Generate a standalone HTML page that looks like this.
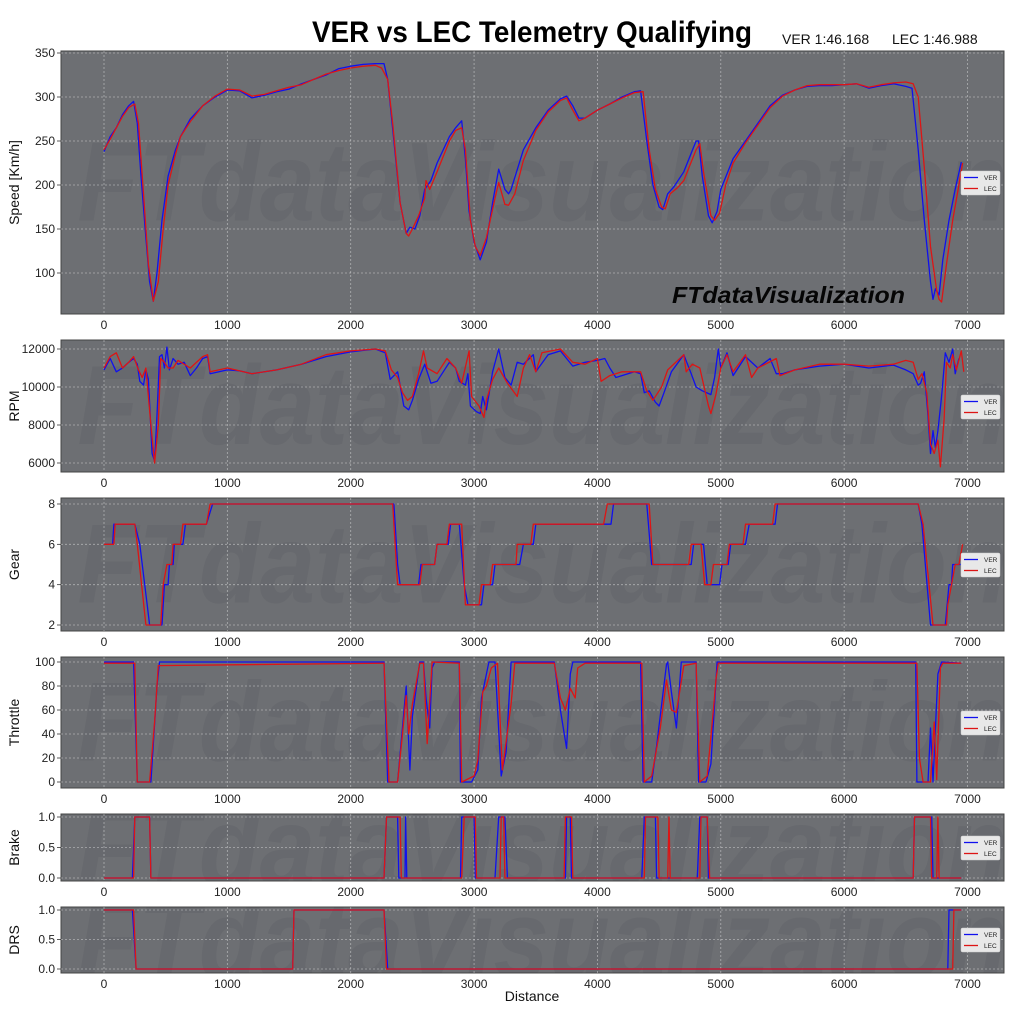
<!DOCTYPE html>
<html><head><meta charset="utf-8"><style>
html,body{margin:0;padding:0;background:#fff;}
svg{display:block;font-family:"Liberation Sans",sans-serif;}
</style></head><body>
<svg id="chart" width="1024" height="1024" viewBox="0 0 1024 1024" xmlns="http://www.w3.org/2000/svg">
<rect width="1024" height="1024" fill="#fff"/>
<text x="532" y="42" text-anchor="middle" font-size="30" font-weight="bold" textLength="440" lengthAdjust="spacingAndGlyphs" fill="#000">VER vs LEC Telemetry Qualifying</text>
<text x="782" y="44" font-size="14" fill="#111">VER 1:46.168</text>
<text x="892" y="44" font-size="14" fill="#111">LEC 1:46.988</text>
<text x="532" y="1001" text-anchor="middle" font-size="14" fill="#111">Distance</text>
</svg>
<script>
// ---- data arrays ----
const xTicks = [0,1000,2000,3000,4000,5000,6000,7000];
const speedDistVER = [0,50,100,150,200,240,270,300,340,370,400,430,470,520,580,620,700,800,900,1000,1100,1200,1300,1400,1500,1600,1800,1900,2000,2100,2200,2270,2300,2350,2400,2450,2480,2520,2560,2600,2650,2700,2800,2850,2900,2930,2960,3000,3050,3100,3150,3200,3250,3280,3300,3400,3500,3600,3700,3750,3800,3850,3900,4000,4100,4200,4300,4350,4400,4450,4500,4530,4570,4620,4700,4800,4820,4850,4900,4930,4970,5000,5100,5200,5300,5400,5500,5600,5700,5800,5900,6000,6100,6200,6300,6400,6500,6550,6600,6650,6700,6720,6740,6770,6800,6850,6900,6950];
const speedVER = [238,255,265,280,290,295,270,210,140,90,68,100,160,210,240,255,275,290,300,308,307,299,302,306,309,315,325,332,335,337,338,338,320,250,180,145,152,150,165,195,205,225,255,265,273,230,170,135,115,135,180,218,195,190,195,240,265,285,298,301,290,276,276,285,292,300,306,307,250,200,175,172,190,198,215,250,250,210,165,157,170,195,230,250,270,290,302,308,312,313,313,314,315,310,313,315,312,310,240,160,90,70,82,75,115,160,195,226];
const speedDistLEC = [0,50,100,150,200,250,280,320,360,400,440,480,520,580,620,700,800,900,1000,1100,1200,1300,1400,1500,1600,1800,1900,2000,2100,2200,2250,2300,2340,2400,2450,2470,2500,2550,2600,2610,2640,2700,2800,2850,2900,2930,2970,3010,3050,3100,3170,3200,3250,3280,3330,3400,3500,3600,3700,3750,3800,3850,3900,4000,4100,4200,4300,4370,4420,4470,4520,4550,4590,4650,4700,4800,4830,4860,4920,4950,4990,5040,5100,5200,5300,5400,5500,5600,5700,5800,5900,6000,6100,6200,6300,6400,6500,6560,6600,6650,6700,6750,6770,6790,6830,6880,6930,6960];
const speedLEC = [240,252,265,278,288,292,270,190,110,68,90,150,200,235,255,272,290,301,309,308,301,303,307,311,314,326,330,333,335,336,333,320,270,180,145,142,150,165,185,205,195,215,250,262,265,240,160,130,120,140,185,203,178,177,190,228,262,283,296,299,285,273,276,285,292,299,305,306,240,195,175,173,190,197,205,240,247,215,165,160,168,200,225,248,268,288,301,308,313,314,314,314,315,311,314,316,317,315,300,220,130,80,70,67,110,160,200,225];
const rpmDistVER = [0,50,100,150,200,240,270,290,320,340,360,390,410,430,450,470,490,510,530,560,600,650,700,750,800,840,860,1000,1100,1200,1400,1600,1800,2000,2200,2280,2320,2380,2400,2430,2470,2500,2550,2600,2650,2700,2800,2850,2880,2930,2950,2970,3020,3050,3070,3100,3150,3200,3250,3300,3350,3400,3480,3500,3600,3700,3800,3900,4000,4060,4100,4150,4300,4350,4380,4420,4470,4500,4540,4600,4700,4760,4800,4850,4920,4950,4980,5000,5050,5100,5200,5300,5400,5450,5500,5600,5800,6000,6200,6400,6500,6560,6600,6620,6650,6680,6700,6720,6740,6760,6790,6820,6850,6880,6900,6930];
const rpmVER = [10900,11500,10800,11000,11300,11500,11200,10300,10100,10900,10400,6500,6100,8500,11600,11700,11000,12100,10900,11500,11200,11300,10600,11000,11500,11600,10700,10900,10850,10700,10900,11200,11600,11850,12000,11800,10400,10800,10100,9000,8800,9300,10400,11200,10200,10300,11300,11000,10300,10100,10700,9000,8700,8600,9500,8800,10800,12000,10500,10100,11300,11200,11700,10800,11700,11900,11100,11300,11400,11500,11000,10500,10800,10700,9700,9800,9200,9000,9700,10800,11700,10700,10000,9800,9600,10500,12000,11000,11800,10600,11600,11000,11500,10700,10700,10900,11100,11200,11000,11150,10900,10700,10100,10200,10800,8500,6500,7700,6800,7700,9500,11800,11300,12000,10700,11500];
const rpmDistLEC = [0,50,100,150,200,240,280,310,340,380,410,440,460,490,520,560,600,700,800,840,860,1000,1200,1400,1600,1800,2000,2200,2280,2330,2380,2420,2460,2500,2550,2590,2620,2700,2780,2850,2900,2960,2980,3040,3080,3100,3150,3200,3270,3350,3400,3450,3500,3550,3700,3800,3900,4000,4030,4100,4200,4350,4400,4450,4520,4570,4700,4720,4770,4830,4900,4920,4960,5000,5050,5100,5200,5250,5300,5450,5480,5600,5800,6000,6200,6400,6500,6560,6600,6630,6670,6700,6730,6760,6780,6810,6830,6860,6880,6910,6950,6970];
const rpmLEC = [11000,11600,11800,11000,11300,11600,10900,10500,11000,8000,6000,8000,11500,11300,11000,11000,11400,11000,11600,11700,10800,11000,10700,10900,11200,11700,11900,12000,11900,10900,10500,9700,9300,9500,10700,11900,11000,10700,11500,11000,10200,11900,9500,9000,8400,9300,10400,11000,10200,9500,11000,11700,10800,11800,12000,11300,11200,11500,10300,10600,10800,10800,9800,9300,10000,10900,11700,10800,11200,11000,9000,8600,9600,11000,11700,10800,11700,10500,11000,11500,10600,10900,11200,11200,11100,11200,11400,11300,10400,10700,9700,7000,6500,7200,5800,8300,11300,11000,11700,10900,11900,10800];
const gearDistVER = [0,70,80,250,290,330,350,370,470,480,490,520,530,560,570,640,660,830,880,2350,2380,2400,2550,2570,2680,2700,2790,2810,2880,2920,2950,3060,3080,3150,3170,3370,3400,3480,3500,4110,4130,4400,4440,4760,4780,4860,4890,4990,5010,5060,5080,5200,5230,5440,5460,6600,6630,6700,6820,6850,6870,6880,6950];
const gearVER = [6,6,7,7,6,4,3,2,2,3,4,4,5,5,6,6,7,7,8,8,5,4,4,5,5,6,6,7,7,4,3,3,4,4,5,5,6,6,7,7,8,8,5,5,6,6,4,4,5,5,6,6,7,7,8,8,7,2,2,4,4,5,5];
const gearDistLEC = [0,80,90,250,270,340,460,480,510,550,560,620,640,830,860,2340,2380,2560,2580,2680,2700,2780,2800,2900,2930,3040,3060,3130,3150,3340,3350,3460,3480,4050,4080,4420,4450,4740,4760,4840,4870,4920,4940,5050,5070,5180,5200,5420,5440,6600,6640,6720,6830,6840,6870,6900,6930,6960];
const gearLEC = [6,6,7,7,6,2,2,4,5,5,6,6,7,7,8,8,4,4,5,5,6,6,7,7,3,3,4,4,5,5,6,6,7,7,8,8,5,5,6,6,4,4,5,5,6,6,7,7,8,8,7,2,2,3,4,5,5,6];
const thrDistVER = [0,240,270,380,430,450,2270,2300,2380,2450,2480,2500,2560,2590,2610,2640,2660,2680,2880,2890,2980,3030,3060,3120,3170,3220,3260,3300,3650,3700,3750,3780,3800,4350,4370,4440,4480,4560,4570,4600,4640,4680,4800,4820,4880,4920,4970,6580,6590,6680,6700,6720,6760,6790,6950];
const thrVER = [100,100,0,0,80,100,100,0,0,80,10,55,100,100,70,45,95,100,100,0,0,10,70,100,100,5,25,100,100,60,28,90,100,100,0,0,30,98,100,75,45,100,100,0,0,15,100,100,0,0,45,0,90,100,99];
const thrDistLEC = [0,250,270,370,410,440,2270,2310,2380,2420,2450,2470,2500,2560,2590,2620,2660,2880,2900,3000,3030,3070,3100,3140,3190,3230,3300,3330,3650,3700,3740,3780,3820,3840,3900,4360,4380,4440,4510,4560,4600,4640,4700,4800,4830,4890,4940,4960,4980,6590,6610,6640,6700,6730,6750,6780,6800,6950];
const thrLEC = [99,99,0,0,50,97,99,0,0,40,72,40,65,99,99,32,100,99,0,5,18,75,80,95,99,10,65,99,99,70,60,78,70,95,99,99,0,5,45,85,60,58,97,99,0,5,60,85,99,99,20,0,0,50,2,95,99,99];
const brkDistVER = [0,230,250,370,380,2270,2290,2380,2390,2440,2445,2455,2890,2900,3000,3010,3170,3200,3250,3270,3740,3750,3780,3790,4360,4380,4470,4480,4810,4830,4890,4900,6560,6570,6710,6720,6950];
const brkVER = [0,0,1,1,0,0,1,1,0,0,1,0,0,1,1,0,0,1,1,0,0,1,1,0,0,1,1,0,0,1,1,0,0,1,1,0,0];
const brkDistLEC = [0,240,250,370,380,2270,2290,2400,2410,2900,2920,3010,3020,3210,3220,3240,3250,3730,3740,3790,3800,4380,4390,4490,4500,4570,4580,4590,4830,4840,4890,4910,6560,6570,6700,6710,6750,6760,6770,6950];
const brkLEC = [0,0,1,1,0,0,1,1,0,0,1,1,0,0,1,1,0,0,1,1,0,0,1,1,0,0,1,0,0,1,1,0,0,1,1,0,0,1,0,0];
const drsDistVER = [0,230,260,1530,1540,2270,2300,6840,6850,6950];
const drsVER = [1,1,0,0,1,1,0,0,1,1];
const drsDistLEC = [0,240,260,1530,1540,2270,2290,6880,6890,6950];
const drsLEC = [1,1,0,0,1,1,0,0,1,1];
const speedTicks = [100,150,200,250,300,350];
const rpmTicks = [6000,8000,10000,12000];
const gearTicks = [2,4,6,8];
const thrTicks = [0,20,40,60,80,100];
const bdTicks = [0.0,0.5,1.0];

const NS = "http://www.w3.org/2000/svg";
const svg = document.getElementById('chart');
const X0 = 61, X1 = 1004;
const xScale = d => 104 + d * (967.5 - 104) / 7000;
function mk(tag, attrs, parent){ const e=document.createElementNS(NS,tag); for(const k in attrs) e.setAttribute(k,attrs[k]); (parent||svg).appendChild(e); return e; }

const panels = [
 {name:'speed', label:'Speed [Km/h]', top:51, bot:314, v1:350, p1:53, v2:100, p2:273, ticks:speedTicks, fmt:v=>String(v), legY:171, dv:speedDistVER, vv:speedVER, dl:speedDistLEC, vl:speedLEC},
 {name:'rpm', label:'RPM', top:340, bot:472, v1:12000, p1:349, v2:6000, p2:463, ticks:rpmTicks, fmt:v=>String(v), legY:395, dv:rpmDistVER, vv:rpmVER, dl:rpmDistLEC, vl:rpmLEC},
 {name:'gear', label:'Gear', top:498, bot:631, v1:8, p1:504, v2:2, p2:625, ticks:gearTicks, fmt:v=>String(v), legY:553, dv:gearDistVER, vv:gearVER, dl:gearDistLEC, vl:gearLEC},
 {name:'throttle', label:'Throttle', top:657, bot:788, v1:100, p1:662, v2:0, p2:782, ticks:thrTicks, fmt:v=>String(v), legY:711, dv:thrDistVER, vv:thrVER, dl:thrDistLEC, vl:thrLEC},
 {name:'brake', label:'Brake', top:814, bot:881, v1:1, p1:817, v2:0, p2:878, ticks:bdTicks, fmt:v=>v.toFixed(1), legY:836, dv:brkDistVER, vv:brkVER, dl:brkDistLEC, vl:brkLEC},
 {name:'drs', label:'DRS', top:907, bot:973, v1:1, p1:910, v2:0, p2:969, ticks:bdTicks, fmt:v=>v.toFixed(1), legY:928, dv:drsDistVER, vv:drsVER, dl:drsDistLEC, vl:drsLEC}
];

panels.forEach((p,i)=>{
  const ys = v => p.p2 + (v - p.v2) * (p.p1 - p.p2) / (p.v1 - p.v2);
  const g = mk('g',{});
  
  
  const clipId='clip'+i;
  const cp = mk('clipPath',{id:clipId},g); mk('rect',{x:X0,y:p.top,width:X1-X0,height:p.bot-p.top},cp);
  const bg = mk('rect',{x:X0,y:p.top,width:X1-X0,height:p.bot-p.top,fill:'#6d6f73',stroke:'#444','stroke-width':1},g);
  
  
  const wm = mk('text',{x:(X0+X1)/2+10,y:p.top+(p.bot-p.top)*0.5+38,'text-anchor':'middle','font-size':112,'font-weight':'bold','font-style':'italic',fill:'rgba(40,40,45,0.08)','clip-path':'url(#'+clipId+')',textLength:930,lengthAdjust:'spacingAndGlyphs'},g);
  wm.textContent='FTdataVisualization';
  
  
  xTicks.forEach(t=>{
    mk('line',{x1:xScale(t),x2:xScale(t),y1:p.top,y2:p.bot,stroke:'rgba(255,255,255,0.45)','stroke-width':0.8,'stroke-dasharray':'2,2'},g);
    const tl = mk('text',{x:xScale(t),y:p.bot+15,'text-anchor':'middle','font-size':12,fill:'#222'},g);
    tl.textContent=String(t);
    
    
  });
  p.ticks.forEach(t=>{
    const y=ys(t);
    mk('line',{x1:X0,x2:X1,y1:y,y2:y,stroke:'rgba(255,255,255,0.45)','stroke-width':0.8,'stroke-dasharray':'2,2'},g);
    mk('line',{x1:X0-4,x2:X0,y1:y,y2:y,stroke:'#333','stroke-width':0.8},g);
    const tl = mk('text',{x:X0-6,y:y+4,'text-anchor':'end','font-size':12,fill:'#222'},g);
    tl.textContent=p.fmt(t);
    
    
  });
  const cy=(p.top+p.bot)/2;
  const yl = mk('text',{x:19,y:cy,'text-anchor':'middle','font-size':14,fill:'#111',transform:`rotate(-90 19 ${cy})`},g);
  yl.textContent=p.label;
  
  
  const ptsV = p.dv.map((d,k)=>xScale(d).toFixed(1)+','+ys(p.vv[k]).toFixed(1)).join(' ');
  const ptsL = p.dl.map((d,k)=>xScale(d).toFixed(1)+','+ys(p.vl[k]).toFixed(1)).join(' ');
  const lv = mk('polyline',{points:ptsV,fill:'none',stroke:'#1010ee','stroke-width':1.3,'stroke-linejoin':'round','clip-path':'url(#'+clipId+')'},g);
  
  
  const ll = mk('polyline',{points:ptsL,fill:'none',stroke:'#dd1515','stroke-width':1.3,'stroke-linejoin':'round','clip-path':'url(#'+clipId+')'},g);
  
  
  const lg = mk('g',{},g);
  
  
  mk('rect',{x:961,y:p.legY,width:39,height:24,fill:'#e8e8e8',stroke:'#ccc','stroke-width':0.5,rx:1.5},lg);
  mk('line',{x1:964,x2:978,y1:p.legY+6.5,y2:p.legY+6.5,stroke:'#1010ee','stroke-width':1.3},lg);
  mk('line',{x1:964,x2:978,y1:p.legY+17.5,y2:p.legY+17.5,stroke:'#dd1515','stroke-width':1.3},lg);
  const t1=mk('text',{x:984,y:p.legY+9,'font-size':6.5,fill:'#222'},lg); t1.textContent='VER';
  
  
  const t2=mk('text',{x:984,y:p.legY+20,'font-size':6.5,fill:'#222'},lg); t2.textContent='LEC';
  
  
});
const br = mk('text',{x:672,y:303,'font-size':23,'font-weight':'bold','font-style':'italic',fill:'#050505',textLength:233,lengthAdjust:'spacingAndGlyphs'});
br.textContent='FTdataVisualization';


</script>
</body></html>
